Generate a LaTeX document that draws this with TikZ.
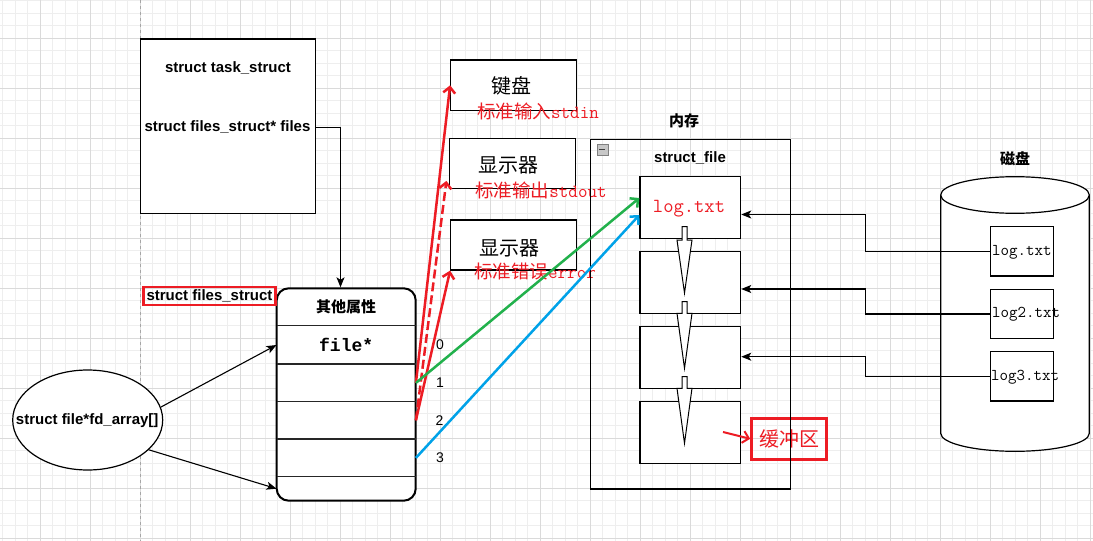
\documentclass[tikz,border=0pt]{standalone}
\usepackage{fontspec}
\setmainfont{Liberation Sans}
\setmonofont{Latin Modern Mono}
\newfontfamily\cjk{Noto Sans CJK SC}
\newfontfamily\bmono{Liberation Mono}
\usetikzlibrary{arrows.meta,shapes.geometric}
\definecolor{myred}{RGB}{237,28,36}
\definecolor{mygreen}{RGB}{34,177,76}
\definecolor{myblue}{RGB}{0,162,232}
\definecolor{gridminor}{RGB}{238,238,238}
\definecolor{gridmajor}{RGB}{218,218,218}
\begin{document}
\begin{tikzpicture}[x=1pt,y=-1pt,
  box/.style={draw=black,line width=1.2pt,fill=white,inner sep=0pt},
  blbl/.style={font=\fontsize{15}{18}\selectfont\bfseries,inner sep=0pt},
  cjkb/.style={font=\fontsize{15}{18}\selectfont\cjk\bfseries,inner sep=0pt},
  big/.style={font=\fontsize{20}{22}\selectfont\cjk,inner sep=0pt},
  redlbl/.style={font=\fontsize{18.5}{20}\selectfont,text=myred,inner sep=0pt},
  num/.style={font=\fontsize{14}{16}\selectfont,inner sep=0pt},
  disklbl/.style={anchor=west,font=\fontsize{16.5}{18}\selectfont\ttfamily,inner sep=0pt},
  conn/.style={draw=black,line width=1.1pt,-{Stealth[length=10pt,width=8pt,inset=2.5pt]}},
  vline/.style={line width=2.5pt,-{Straight Barb[length=6pt,width=12pt]}},
  row/.style={inner sep=0pt,minimum width=139}
]
\useasboundingbox (0,0) rectangle (1093,541);
\fill[white] (0,0) rectangle (1093,541);
\foreach \x in {2.5,15,...,1093} \draw[gridminor,line width=0.8pt] (\x,0) -- (\x,541);
\foreach \y in {0.8,13.3,...,541} \draw[gridminor,line width=0.8pt] (0,\y) -- (1093,\y);
\foreach \x in {40,90,...,1093} \draw[gridmajor,line width=0.8pt] (\x,0) -- (\x,541);
\foreach \y in {38.3,88.3,...,541} \draw[gridmajor,line width=0.8pt] (0,\y) -- (1093,\y);
\draw[black!35,dashed,line width=0.8pt] (140,0) -- (140,541);

% task_struct
\node[box,line width=1.3pt,minimum width=175,minimum height=174.3] (task) at (228.2,126.2) {};
\node[blbl] (t1) at (228,68.3) {struct task\_struct};
\node[blbl] (t2) at (227.5,127.3) {struct files\_struct* files};

% files_struct
\node[draw,fill=white,rounded corners=12pt,line width=2pt,minimum width=139,minimum height=212.4,inner sep=0pt] (fs) at (346.2,394.5) {};
\node[row,minimum height=37.7,font=\fontsize{15}{18}\selectfont\cjk\bfseries] (hdr) at (346.2,307.2) {其他属性};
\node[row,minimum height=38,font=\fontsize{18}{20}\selectfont\bmono\bfseries] (row0) at (346.2,345) {file*};
\node[row,minimum height=37.7] (row1) at (346.2,382.9) {};
\node[row,minimum height=37.3] (row2) at (346.2,420.3) {};
\node[row,minimum height=37.7] (row3) at (346.2,457.9) {};
\node[row,minimum height=24] (row4) at (346.2,488.7) {};
\foreach \r in {row0,row1,row2,row3,row4}
  \draw[line width=1.3pt,black!85] (\r.north west) -- (\r.north east);
\node[draw=myred,line width=2.3pt,inner sep=0pt,minimum width=132,minimum height=18,font=\fontsize{15}{18}\selectfont\bfseries] (fslbl) at (209.5,295.8) {struct files\_struct};
\draw[conn] (task.east |- t2) -| ([xshift=-5.7pt]fs.north);

% fd_array
\node[draw,ellipse,line width=1.2pt,fill=white,minimum width=150,minimum height=100,inner sep=0pt] (fd) at (87.7,420) {};
\node[blbl] (fdt) at (87.2,420.7) {struct file*fd\_array[]};
\draw[conn] (fd.10) -- (row0.west);
\draw[conn] (fd.-26) -- (row4.west);

% numbers
\node[num] (n0) at (440,345) {0};
\node[num] (n1) at (440,383) {1};
\node[num] (n2) at (439.5,420.7) {2};
\node[num] (n3) at (440,458) {3};

% devices
\node[box,minimum width=126,minimum height=50.7] (kbd) at (513.7,85.3) {};
\node[big] (kbdt) at (511,86) {键盘};
\node[redlbl] (kbdl) at (538,111) {{\cjk 标准输入}\ttfamily stdin};
\node[box,minimum width=126.4,minimum height=50] (disp1) at (512.5,163.3) {};
\node[big] (disp1t) at (508,165) {显示器};
\node[redlbl] (disp1l) at (541,190) {{\cjk 标准输出}\ttfamily stdout};
\node[box,minimum width=126,minimum height=50] (disp2) at (513.7,245) {};
\node[big] (disp2t) at (509,248) {显示器};
\node[redlbl] (disp2l) at (535,271.7) {{\cjk 标准错误}\ttfamily error};

% memory
\node[cjkb] (memt) at (684,120.7) {内存};
\node[draw=myred,line width=3pt,minimum width=75,minimum height=41,inner sep=0pt,font=\fontsize{20}{22}\selectfont\cjk,text=myred] (buf) at (789.2,438.8) {缓冲区};
\node[draw,line width=1.3pt,minimum width=200,minimum height=349.7,inner sep=0pt] (mem) at (690.7,314.2) {};
\node[draw=black!50,fill=black!22,minimum size=11,inner sep=0pt] (minus) at (602.2,149.2) {};
\draw[black!75,line width=1.2pt] ([xshift=2.5pt]minus.west) -- ([xshift=-2.5pt]minus.east);
\node[blbl] (sft) at (690,158.3) {struct\_file};
\node[box,minimum width=100.7,minimum height=61.6] (m1) at (690.3,207.5) {};
\node[box,minimum width=100.7,minimum height=61.6] (m2) at (690.3,282.5) {};
\node[box,minimum width=100.7,minimum height=61.6] (m3) at (690.3,357.5) {};
\node[box,minimum width=100.7,minimum height=61.6] (m4) at (690.3,432.5) {};
\node[font=\fontsize{20}{22}\selectfont\ttfamily,text=myred,inner sep=0pt] (mlog) at (689,208.5) {log.txt};
\foreach \a/\b/\c in {226.7/240/293, 301.7/313.3/368.3, 376.7/388.3/443.3}
  \draw[fill=white,line width=1pt] (682,\a) -- (687,\a) -- (687,\b) -- (692,\b) -- (684.5,\c) -- (677,\b) -- (682,\b) -- cycle;
\coordinate (bufsrc) at (723,432);
\draw[myred,vline,line width=2pt] (bufsrc) -- (buf.west);

% disk
\node[cjkb] (diskt) at (1015,158.3) {磁盘};
\draw[fill=white,line width=1.2pt] (940.7,195) -- (940.7,433.3) arc[start angle=180,end angle=0,x radius=74.3,y radius=18] -- (1089.3,195);
\draw[fill=white,line width=1.2pt] (1015,195) ellipse[x radius=74.3,y radius=18.3];
\node[box,minimum width=62.6,minimum height=49.3] (d1) at (1022,251.3) {};
\node[box,minimum width=62.6,minimum height=49.3] (d2) at (1022,314) {};
\node[box,minimum width=62.6,minimum height=49.3] (d3) at (1022,376.3) {};
\node[disklbl] (d1t) at (992,252) {log.txt};
\node[disklbl] (d2t) at (992,314.5) {log2.txt};
\node[disklbl] (d3t) at (991,377) {log3.txt};
\draw[conn] (d1.west) -- ++(-125,0) |- ([yshift=-7pt]m1.east);
\draw[conn] (d2.west) -- ++(-125,0) |- ([yshift=-6.5pt]m2.east);
\draw[conn] (d3.west) -- ++(-125,0) |- ([yshift=0.8pt]m3.east);

% coloured pointers
\draw[myred,vline] (row1.east) -- (kbd.west);
\draw[myred,vline,dash pattern=on 9pt off 4pt] (row2.east) -- ([xshift=-2.3pt,yshift=8pt]disp1.south west);
\draw[myred,vline] (row2.east) -- (disp2.south west);
\draw[mygreen,vline] (row1.east) -- ([yshift=9.5pt]m1.west);
\draw[myblue,vline] (row3.east) -- ([yshift=-7.5pt]m1.west);
\end{tikzpicture}
\end{document}
